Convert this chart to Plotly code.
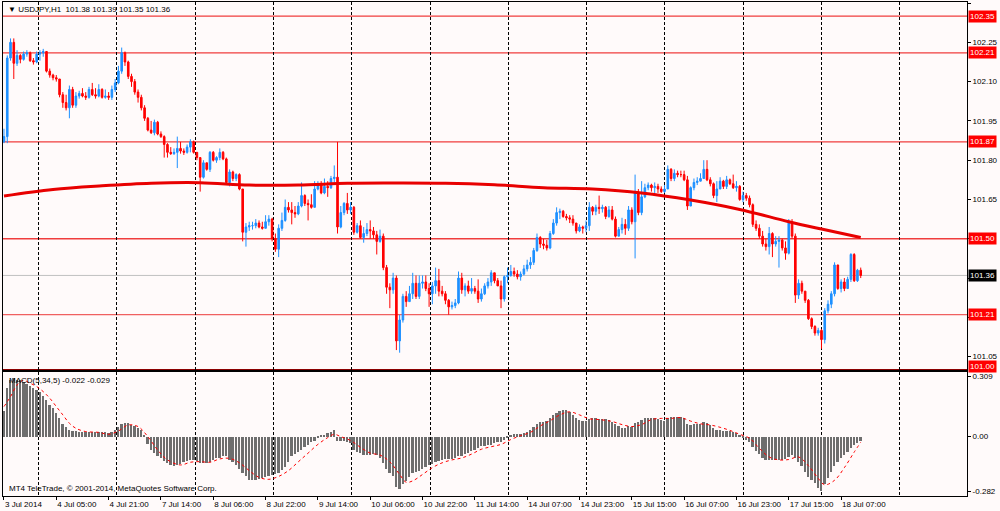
import plotly.graph_objects as go

# MT4 colours
BG = '#FFFAFA'
BULL = '#1E90FF'
BEAR = '#FF0000'
FONT = 'Liberation Sans'

# ---- price data (H1 bars) ----
first_open = 101.87
closes = [
    101.89, 102.19, 102.25, 102.17, 102.20, 102.185, 102.205, 102.21, 102.18, 102.175,
    102.205, 102.21, 102.215, 102.14, 102.125, 102.115, 102.11, 102.05, 102.02, 102.00,
    102.07, 102.01, 102.045, 102.055, 102.045, 102.04, 102.07, 102.05, 102.045, 102.07,
    102.04, 102.045, 102.04, 102.07, 102.095, 102.14, 102.21, 102.175, 102.12, 102.10,
    102.06, 102.04, 102.00, 101.96, 101.915, 101.905, 101.945, 101.90, 101.89, 101.86,
    101.83, 101.825, 101.83, 101.845, 101.835, 101.83, 101.85, 101.87, 101.83, 101.81,
    101.735, 101.79, 101.765, 101.83, 101.80, 101.81, 101.83, 101.805, 101.715, 101.755,
    101.73, 101.745, 101.69, 101.525, 101.545, 101.55, 101.55, 101.56, 101.545, 101.54,
    101.565, 101.575, 101.50, 101.46, 101.54, 101.57, 101.62, 101.61, 101.60, 101.595,
    101.625, 101.665, 101.635, 101.63, 101.62, 101.69, 101.705, 101.675, 101.70, 101.695,
    101.73, 101.735, 101.545, 101.60, 101.635, 101.61, 101.62, 101.525, 101.55, 101.505,
    101.52, 101.535, 101.53, 101.515, 101.49, 101.51, 101.39, 101.315, 101.305, 101.35,
    101.11, 101.19, 101.28, 101.26, 101.29, 101.33, 101.28, 101.33, 101.335, 101.31,
    101.29, 101.32, 101.34, 101.30, 101.29, 101.265, 101.24, 101.245, 101.255, 101.35,
    101.305, 101.32, 101.30, 101.31, 101.30, 101.27, 101.29, 101.32, 101.335, 101.37,
    101.34, 101.32, 101.27, 101.355, 101.36, 101.375, 101.365, 101.355, 101.365, 101.385,
    101.40, 101.41, 101.455, 101.505, 101.48, 101.475, 101.465, 101.52, 101.56, 101.60,
    101.605, 101.585, 101.58, 101.575, 101.56, 101.53, 101.545, 101.54, 101.55, 101.62,
    101.605, 101.62, 101.615, 101.62, 101.585, 101.61, 101.575, 101.51, 101.535, 101.555,
    101.54, 101.61, 101.565, 101.675, 101.60, 101.66, 101.695, 101.705, 101.695, 101.70,
    101.69, 101.68, 101.69, 101.765, 101.73, 101.75, 101.745, 101.745, 101.725, 101.625,
    101.695, 101.715, 101.72, 101.73, 101.765, 101.725, 101.71, 101.665, 101.69, 101.72,
    101.70, 101.725, 101.71, 101.695, 101.70, 101.65, 101.665, 101.655, 101.63, 101.555,
    101.54, 101.51, 101.48, 101.47, 101.52, 101.48, 101.49, 101.495, 101.465, 101.445,
    101.56, 101.51, 101.285, 101.33, 101.30, 101.265, 101.195, 101.165, 101.14, 101.15,
    101.115, 101.225, 101.25, 101.29, 101.40, 101.31, 101.335, 101.31, 101.345, 101.44,
    101.34, 101.38, 101.36,
]
highs = [
    101.92, 102.20, 102.265, 102.265, 102.22, 102.205, 102.215, 102.22, 102.215, 102.19,
    102.215, 102.22, 102.225, 102.215, 102.15, 102.13, 102.125, 102.11, 102.06, 102.05,
    102.085, 102.08, 102.06, 102.065, 102.075, 102.06, 102.08, 102.095, 102.075, 102.09,
    102.075, 102.07, 102.06, 102.085, 102.11, 102.16, 102.23, 102.215, 102.18, 102.13,
    102.11, 102.07, 102.05, 102.01, 101.965, 101.95, 101.955, 101.95, 101.91, 101.895,
    101.865, 101.85, 101.845, 101.89, 101.87, 101.845, 101.86, 101.88, 101.875, 101.83,
    101.81, 101.80, 101.79, 101.835, 101.835, 101.815, 101.845, 101.835, 101.81, 101.765,
    101.76, 101.75, 101.75, 101.69, 101.56, 101.565, 101.565, 101.575, 101.57, 101.565,
    101.59, 101.59, 101.58, 101.52, 101.555, 101.60, 101.65, 101.64, 101.64, 101.625,
    101.64, 101.715, 101.67, 101.65, 101.67, 101.72, 101.72, 101.72, 101.73, 101.72,
    101.74, 101.78, 101.87, 101.625, 101.64, 101.675, 101.64, 101.625, 101.56, 101.57,
    101.545, 101.56, 101.57, 101.545, 101.53, 101.535, 101.52, 101.40, 101.33, 101.37,
    101.36, 101.21, 101.29, 101.30, 101.32, 101.37, 101.36, 101.36, 101.36, 101.36,
    101.33, 101.335, 101.39, 101.385, 101.32, 101.30, 101.27, 101.26, 101.27, 101.375,
    101.37, 101.33, 101.34, 101.35, 101.32, 101.345, 101.31, 101.33, 101.35, 101.38,
    101.37, 101.35, 101.34, 101.36, 101.39, 101.40, 101.39, 101.38, 101.375, 101.40,
    101.42, 101.43, 101.465, 101.52, 101.51, 101.50, 101.495, 101.53, 101.575, 101.62,
    101.615, 101.61, 101.595, 101.59, 101.59, 101.56, 101.555, 101.55, 101.57, 101.64,
    101.625, 101.63, 101.665, 101.63, 101.625, 101.625, 101.625, 101.585, 101.545, 101.58,
    101.575, 101.625, 101.62, 101.745, 101.69, 101.72, 101.71, 101.715, 101.71, 101.715,
    101.71, 101.70, 101.705, 101.78, 101.77, 101.765, 101.76, 101.76, 101.76, 101.74,
    101.70, 101.73, 101.735, 101.75, 101.80, 101.80, 101.735, 101.715, 101.72, 101.735,
    101.725, 101.74, 101.73, 101.745, 101.72, 101.705, 101.68, 101.675, 101.665, 101.635,
    101.57, 101.555, 101.53, 101.50, 101.545, 101.525, 101.51, 101.51, 101.50, 101.49,
    101.575, 101.575, 101.52, 101.345, 101.34, 101.30, 101.27, 101.20, 101.17, 101.16,
    101.155, 101.235, 101.265, 101.30, 101.41, 101.395, 101.345, 101.35, 101.355, 101.445,
    101.445, 101.385, 101.39,
]
lows = [
    101.865, 101.865, 102.18, 102.11, 102.16, 102.17, 102.18, 102.195, 102.175, 102.165,
    102.17, 102.18, 102.195, 102.135, 102.115, 102.105, 102.10, 102.04, 102.00, 101.99,
    101.96, 102.00, 102.00, 102.035, 102.04, 102.03, 102.035, 102.045, 102.035, 102.04,
    102.035, 102.035, 102.03, 102.03, 102.06, 102.09, 102.13, 102.16, 102.11, 102.08,
    102.05, 102.02, 101.99, 101.95, 101.91, 101.90, 101.895, 101.895, 101.885, 101.81,
    101.81, 101.82, 101.82, 101.77, 101.825, 101.82, 101.825, 101.83, 101.825, 101.80,
    101.68, 101.73, 101.76, 101.755, 101.795, 101.79, 101.80, 101.80, 101.71, 101.70,
    101.72, 101.72, 101.685, 101.49, 101.47, 101.53, 101.535, 101.54, 101.54, 101.535,
    101.54, 101.55, 101.49, 101.45, 101.43, 101.53, 101.565, 101.60, 101.555, 101.58,
    101.59, 101.62, 101.625, 101.57, 101.615, 101.62, 101.685, 101.67, 101.67, 101.66,
    101.69, 101.715, 101.52, 101.54, 101.59, 101.595, 101.595, 101.515, 101.52, 101.50,
    101.485, 101.51, 101.50, 101.50, 101.44, 101.485, 101.38, 101.29, 101.235, 101.29,
    101.075, 101.065, 101.18, 101.24, 101.26, 101.27, 101.27, 101.27, 101.31, 101.30,
    101.24, 101.25, 101.29, 101.28, 101.28, 101.25, 101.21, 101.23, 101.235, 101.25,
    101.29, 101.28, 101.29, 101.29, 101.29, 101.255, 101.26, 101.285, 101.31, 101.32,
    101.33, 101.32, 101.235, 101.26, 101.33, 101.355, 101.355, 101.345, 101.34, 101.36,
    101.375, 101.385, 101.40, 101.45, 101.465, 101.46, 101.455, 101.46, 101.515, 101.55,
    101.575, 101.58, 101.57, 101.56, 101.55, 101.52, 101.525, 101.52, 101.525, 101.53,
    101.59, 101.59, 101.595, 101.60, 101.575, 101.58, 101.57, 101.505, 101.51, 101.52,
    101.515, 101.53, 101.555, 101.425, 101.59, 101.59, 101.655, 101.685, 101.68, 101.675,
    101.675, 101.675, 101.675, 101.69, 101.72, 101.72, 101.735, 101.735, 101.72, 101.61,
    101.635, 101.685, 101.705, 101.725, 101.735, 101.72, 101.70, 101.655, 101.64, 101.69,
    101.69, 101.69, 101.705, 101.69, 101.68, 101.645, 101.64, 101.645, 101.62, 101.545,
    101.53, 101.50, 101.47, 101.455, 101.44, 101.43, 101.47, 101.39, 101.455, 101.42,
    101.44, 101.50, 101.255, 101.27, 101.29, 101.255, 101.19, 101.155, 101.13, 101.13,
    101.08, 101.10, 101.215, 101.235, 101.28, 101.305, 101.295, 101.30, 101.31, 101.335,
    101.335, 101.335, 101.35,
]
opens = [first_open] + closes[:-1]
bars = list(range(len(closes)))

# red moving average, read at every ~15 bars
ma_bars = [0, 15, 30, 45, 60, 75, 90, 105, 120, 135, 150, 165, 180, 195, 210, 225, 240, 250, 262]
ma_vals = [101.663, 101.688, 101.702, 101.712, 101.714, 101.705, 101.705, 101.712, 101.713,
           101.712, 101.706, 101.695, 101.690, 101.675, 101.648, 101.612, 101.565, 101.537, 101.505]

# MACD(5,34,5) histogram, one value per bar
macd = [
    0.13, 0.25, 0.29, 0.30, 0.29, 0.29, 0.28, 0.27, 0.26, 0.25,
    0.24, 0.23, 0.21, 0.19, 0.165, 0.15, 0.12, 0.095, 0.065, 0.05,
    0.035, 0.03, 0.03, 0.026, 0.025, 0.025, 0.026, 0.025, 0.024, 0.025,
    0.022, 0.022, 0.02, 0.025, 0.035, 0.05, 0.065, 0.07, 0.07, 0.06,
    0.055, 0.045, 0.035, 0.01, -0.04, -0.07, -0.085, -0.10, -0.11, -0.125,
    -0.135, -0.145, -0.15, -0.145, -0.14, -0.13, -0.125, -0.12, -0.12, -0.125,
    -0.135, -0.135, -0.135, -0.13, -0.12, -0.11, -0.11, -0.10, -0.10, -0.12,
    -0.13, -0.145, -0.165, -0.19, -0.205, -0.225, -0.225, -0.225, -0.22, -0.215,
    -0.21, -0.205, -0.20, -0.195, -0.19, -0.17, -0.155, -0.13, -0.10, -0.09,
    -0.08, -0.07, -0.055, -0.045, -0.03, -0.02, -0.005, 0.005, 0.01, 0.02,
    0.025, 0.035, -0.02, -0.025, -0.025, -0.03, -0.035, -0.07, -0.08, -0.085,
    -0.095, -0.095, -0.095, -0.09, -0.095, -0.11, -0.135, -0.165, -0.19, -0.205,
    -0.26, -0.27, -0.245, -0.23, -0.21, -0.19, -0.18, -0.175, -0.165, -0.155,
    -0.145, -0.14, -0.13, -0.125, -0.12, -0.115, -0.115, -0.115, -0.11, -0.10,
    -0.10, -0.09, -0.085, -0.075, -0.07, -0.06, -0.05, -0.05, -0.045, -0.045,
    -0.035, -0.03, -0.03, -0.017, -0.004, 0.01, 0.012, 0.012, 0.012, 0.017,
    0.022, 0.034, 0.05, 0.064, 0.074, 0.077, 0.081, 0.095, 0.11, 0.124,
    0.132, 0.136, 0.136, 0.129, 0.11, 0.098, 0.086, 0.081, 0.081, 0.091,
    0.094, 0.094, 0.091, 0.091, 0.089, 0.084, 0.074, 0.065, 0.057, 0.046,
    0.043, 0.055, 0.052, 0.069, 0.077, 0.086, 0.094, 0.098, 0.098, 0.094,
    0.091, 0.086, 0.082, 0.098, 0.10, 0.10, 0.10, 0.10, 0.098, 0.064,
    0.06, 0.064, 0.064, 0.067, 0.077, 0.072, 0.06, 0.043, 0.034, 0.033,
    0.029, 0.029, 0.029, 0.026, 0.019, 0.009, -0.005, -0.017, -0.029, -0.052,
    -0.074, -0.091, -0.112, -0.12, -0.12, -0.12, -0.12, -0.12, -0.12, -0.115,
    -0.103, -0.094, -0.108, -0.132, -0.15, -0.18, -0.206, -0.223, -0.24, -0.263,
    -0.28, -0.244, -0.215, -0.18, -0.15, -0.129, -0.112, -0.094, -0.077, -0.057,
    -0.043, -0.035, -0.022,
]

# signal line, read at every few bars
sig_bars = [0, 2, 4, 6, 8, 10, 12, 14, 16, 18, 20, 22, 25, 29, 32, 35, 38, 41, 44, 47,
            50, 54, 57, 60, 63, 66, 69, 72, 75, 78, 81, 84, 87, 90, 93, 96, 99, 101, 103, 106,
            109, 112, 115, 118, 121, 123, 125, 128, 131, 134, 137, 140, 143, 146, 149, 152, 155, 158, 161, 164,
            167, 170, 173, 176, 179, 182, 186, 189, 192, 195, 198, 201, 204, 207, 210, 213, 216, 219, 222, 225,
            228, 231, 234, 237, 240, 243, 246, 249, 251, 254, 257, 260, 262]
sig_vals = [0.155, 0.206, 0.266, 0.29, 0.275, 0.258, 0.232, 0.198, 0.155, 0.112, 0.069, 0.043, 0.026, 0.022, 0.012, 0.029, 0.06, 0.052, 0.0, -0.069,
            -0.12, -0.146, -0.132, -0.129, -0.132, -0.115, -0.112, -0.135, -0.175, -0.21, -0.22, -0.205, -0.175, -0.13, -0.085, -0.04, -0.005, 0.012, 0.0, -0.02,
            -0.055, -0.085, -0.095, -0.13, -0.195, -0.235, -0.228, -0.195, -0.16, -0.135, -0.12, -0.11, -0.09, -0.065, -0.052, -0.04, -0.015, 0.005, 0.022, 0.055,
            0.082, 0.112, 0.128, 0.112, 0.092, 0.088, 0.078, 0.062, 0.052, 0.062, 0.088, 0.094, 0.094, 0.098, 0.08, 0.066, 0.06, 0.048, 0.032, 0.012,
            -0.008, -0.06, -0.105, -0.12, -0.118, -0.105, -0.15, -0.215, -0.248, -0.225, -0.16, -0.08, -0.029]

# horizontal levels and their line colours
levels = [102.35, 102.21, 101.87, 101.50, 101.21, 101.00]
level_colors = ['#F03C3C', '#F03C3C', '#F03C3C', '#F03C3C', '#F06060', '#8B0000']
bid = 101.36

# right price scale (labels hidden where a level box covers them)
price_ticks = [102.40, 102.25, 102.10, 101.95, 101.80, 101.65, 101.50, 101.35, 101.20, 101.05]
price_text = ['102.40', '102.25', '102.10', '101.95', '101.80', '101.65', '', '', '', '101.05']

# time axis labels, one every 16 bars
time_labels = ['3 Jul 2014', '4 Jul 05:00', '4 Jul 21:00', '7 Jul 14:00', '8 Jul 06:00',
               '8 Jul 22:00', '9 Jul 14:00', '10 Jul 06:00', '10 Jul 22:00', '11 Jul 14:00',
               '14 Jul 07:00', '14 Jul 23:00', '15 Jul 15:00', '16 Jul 07:00', '16 Jul 23:00',
               '17 Jul 15:00', '18 Jul 07:00']
label_bars = [16 * i for i in range(len(time_labels))]
grid_bars = [10.6 + 23.94 * k for k in range(12)]

fig = go.Figure()

fig.add_trace(go.Candlestick(
    x=bars, open=opens, high=highs, low=lows, close=closes,
    increasing=dict(line=dict(color=BULL, width=1), fillcolor=BULL),
    decreasing=dict(line=dict(color=BEAR, width=1), fillcolor=BEAR),
    whiskerwidth=0, showlegend=False, xaxis='x', yaxis='y',
))
fig.add_trace(go.Scatter(
    x=ma_bars, y=ma_vals, mode='lines', line=dict(color='#E80000', width=3, shape='spline'),
    showlegend=False, xaxis='x', yaxis='y',
))
fig.add_trace(go.Bar(
    x=bars, y=macd, width=0.55, marker=dict(color='#6E6E6E', line=dict(width=0)),
    showlegend=False, xaxis='x2', yaxis='y2',
))
fig.add_trace(go.Scatter(
    x=sig_bars, y=sig_vals, mode='lines',
    line=dict(color='#FF0000', width=1, dash='dot', shape='spline'),
    showlegend=False, xaxis='x2', yaxis='y2',
))

# level lines with their price boxes on the right scale
for v, c in zip(levels, level_colors):
    fig.add_shape(type='line', xref='x domain', x0=0, x1=1, yref='y', y0=v, y1=v,
                  line=dict(color=c, width=1.3), layer='below')
    fig.add_annotation(x=1, xref='paper', xanchor='left', xshift=1, y=v, yref='y',
                       yshift=3 if v == 101.00 else 0,
                       text='%.2f' % v, showarrow=False, bgcolor='#FF0000',
                       font=dict(family=FONT, size=8, color='white'), borderpad=1)
fig.add_shape(type='line', xref='x domain', x0=0, x1=1, yref='y', y0=bid, y1=bid,
              line=dict(color='#C0C0C0', width=1), layer='below')
fig.add_annotation(x=1, xref='paper', xanchor='left', xshift=1, y=bid, yref='y',
                   text='%.2f' % bid, showarrow=False, bgcolor='#000000',
                   font=dict(family=FONT, size=8, color='white'), borderpad=1)

# texts
fig.add_annotation(x=0, xref='paper', y=1, yref='paper', xanchor='left', yanchor='top',
                   xshift=3, yshift=-1, showarrow=False,
                   text='\u25bc USDJPY,H1  101.38 101.39 101.35 101.36',
                   font=dict(family=FONT, size=8, color='black'))
fig.add_annotation(x=0, xref='paper', y=0.251, yref='paper', xanchor='left', yanchor='top',
                   xshift=4, yshift=-2, showarrow=False, text='MACD(5,34,5) -0.022 -0.029',
                   font=dict(family=FONT, size=8, color='black'))
fig.add_annotation(x=0, xref='paper', y=0, yref='paper', xanchor='left', yanchor='bottom',
                   xshift=4, yshift=1, showarrow=False,
                   text='MT4 TeleTrade, \u00a9 2001-2014, MetaQuotes Software Corp.',
                   font=dict(family=FONT, size=8, color='black'))

grid = dict(tickmode='array', tickvals=grid_bars, showgrid=True, gridcolor='#000000',
            griddash='3px,2px', gridwidth=1, ticks='')
frame = dict(showline=True, linecolor='#000000', linewidth=1, mirror=True, zeroline=False,
             automargin=False)

fig.update_layout(
    width=1000, height=511,
    margin=dict(l=3, r=33, t=2, b=15),
    paper_bgcolor=BG, plot_bgcolor=BG,
    font=dict(family=FONT, size=8, color='black'),
    bargap=0,
    xaxis=dict(domain=[0, 1], anchor='y', range=[-0.3, 294.5], showticklabels=False,
               ticks='', showgrid=False, minor=grid, rangeslider=dict(visible=False), **frame),
    xaxis2=dict(domain=[0, 1], anchor='y2', matches='x', range=[-0.3, 294.5],
                tickmode='array', tickvals=label_bars, ticktext=time_labels, tickangle=0,
                ticks='outside', ticklen=3, tickcolor='#000000',
                ticklabelposition='outside right', showgrid=False, minor=grid, **frame),
    yaxis=dict(domain=[0.2551, 1], anchor='x', side='right', range=[100.999, 102.404],
               tickmode='array', tickvals=price_ticks, ticktext=price_text,
               ticks='outside', ticklen=3, tickcolor='#000000', showgrid=False, **frame),
    yaxis2=dict(domain=[0, 0.251], anchor='x2', side='right', range=[-0.306, 0.333],
                tickmode='array', tickvals=[0.309, 0.0, -0.282],
                ticktext=['0.309', '0.00', '-0.282'], ticks='outside', ticklen=3,
                tickcolor='#000000', showgrid=False, **frame),
)

fig.write_html("out.html", config={'displayModeBar': False},
               post_script="document.body.style.margin='0px';")
